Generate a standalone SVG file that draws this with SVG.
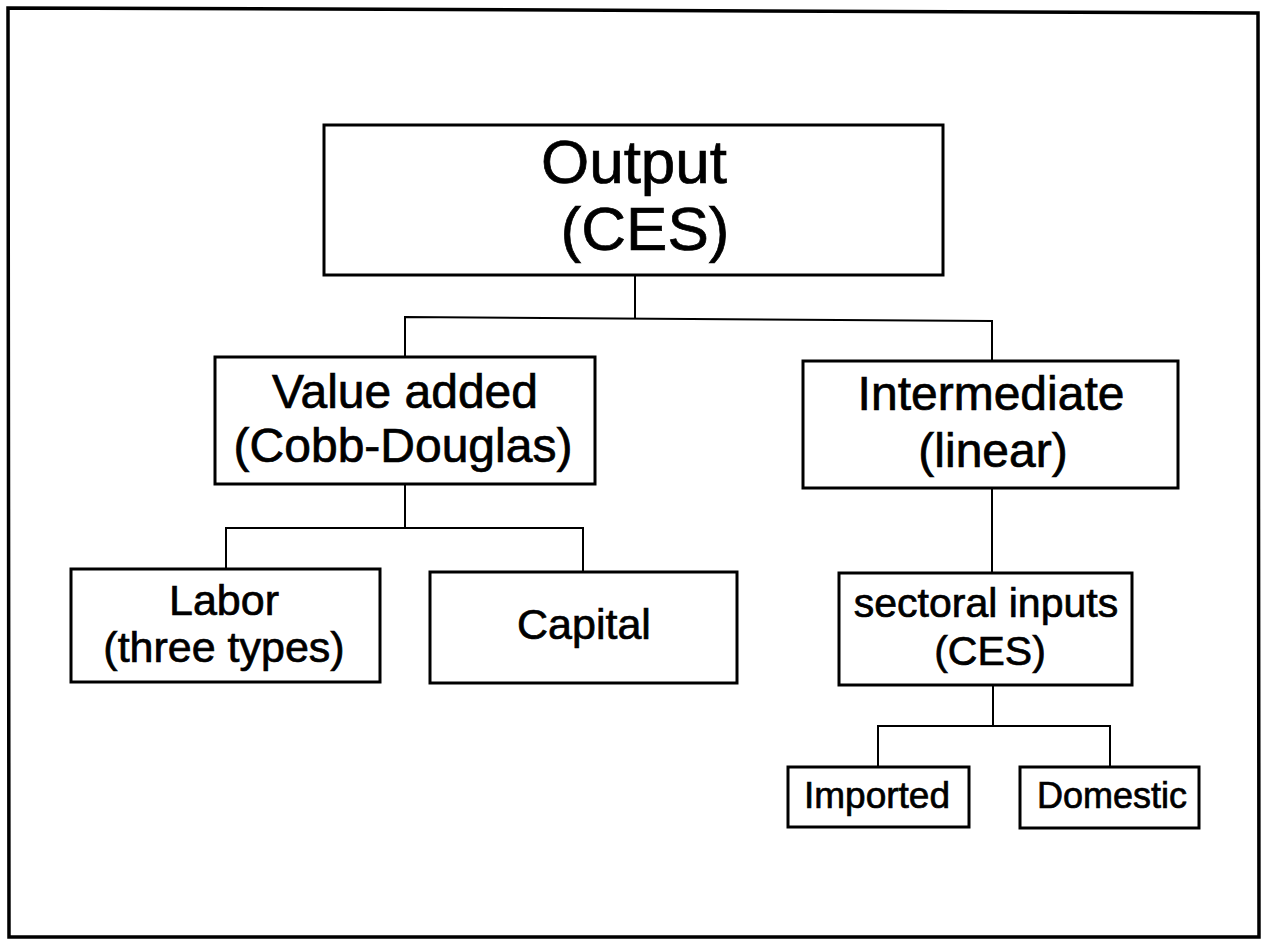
<svg xmlns="http://www.w3.org/2000/svg" width="1263" height="942" viewBox="0 0 1263 942">
<style>
.box{fill:#fff;stroke:#000;stroke-width:3}
.frame{fill:none;stroke:#000;stroke-width:3.5}
.con{fill:none;stroke:#000;stroke-width:2}
text{font-family:"Liberation Sans",Arial,Helvetica,sans-serif;fill:#000;text-anchor:middle;stroke:#000;stroke-width:0.7}
.big{font-size:62px}
.mid{font-size:48px}
.sm{font-size:43px}
.xs{font-size:37px}
</style>
<rect width="1263" height="942" fill="#fff"/>
<path class="frame" d="M8,8 L320,9 L1258,13 L1259,937 L9,937 Z"/>
<g id="connectors">
<path class="con" d="M635,275 V318"/>
<path class="con" d="M405,357 V317 L992,321 V361"/>
<path class="con" d="M405,484 V528"/>
<path class="con" d="M226,569 V528 H583 V572"/>
<path class="con" d="M992,488 V573"/>
<path class="con" d="M993,685 V726"/>
<path class="con" d="M878,767 V726 H1110 V767"/>
</g>
<g id="output">
<rect class="box" x="324" y="125" width="619" height="150"/>
<text class="big" x="634" y="183">Output</text>
<text class="big" x="645" y="250">(CES)</text>
</g>
<g id="value-added">
<rect class="box" x="215" y="357" width="380" height="127"/>
<text class="mid" x="405" y="408">Value added</text>
<text class="mid" x="403" y="462">(Cobb-Douglas)</text>
</g>
<g id="intermediate">
<rect class="box" x="803" y="361" width="375" height="127"/>
<text class="mid" x="991" y="410">Intermediate</text>
<text class="mid" x="993" y="467">(linear)</text>
</g>
<g id="labor">
<rect class="box" x="71" y="569" width="309" height="113"/>
<text class="sm" x="224" y="615">Labor</text>
<text class="sm" x="224" y="662">(three types)</text>
</g>
<g id="capital">
<rect class="box" x="430" y="572" width="307" height="111"/>
<text class="sm" x="584" y="639">Capital</text>
</g>
<g id="sectoral-inputs">
<rect class="box" x="839" y="573" width="293" height="112"/>
<text class="sm" x="986" y="617" style="font-size:41px">sectoral inputs</text>
<text class="sm" x="990" y="665" style="font-size:41px">(CES)</text>
</g>
<g id="imported">
<rect class="box" x="788" y="767" width="181" height="60"/>
<text class="xs" x="877" y="808">Imported</text>
</g>
<g id="domestic">
<rect class="box" x="1020" y="767" width="179" height="61"/>
<text class="xs" x="1112" y="808" style="font-size:36px">Domestic</text>
</g>
</svg>
